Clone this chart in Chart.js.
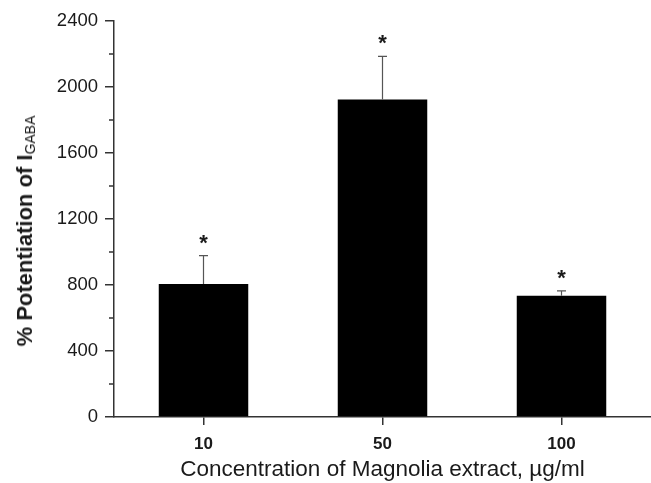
<!DOCTYPE html>
<html>
<head>
<meta charset="utf-8">
<script src="https://cdn.jsdelivr.net/npm/chart.js@4/dist/chart.umd.min.js"></script>
<style>
  html, body { margin: 0; padding: 0; background: #fff; overflow: hidden; }
  #wrap { position: relative; width: 651px; height: 483px; }
  #ytitle {
    position: absolute; left: 25px; top: 231px;
    transform: translate(-50%, -50%) rotate(-90deg);
    white-space: nowrap;
    font: bold 22px "Liberation Sans", Arial, sans-serif; color: #1a1a1a;
  }
  #ytitle sub { font-weight: normal; font-size: 14px; vertical-align: -3px; }
</style>
</head>
<body>
<div id="wrap">
  <canvas id="mychart" width="651" height="483"></canvas>
  <div id="ytitle">% Potentiation of I<sub>GABA</sub></div>
</div>
<script>
// values
var concentrations = ['10', '50', '100'];      // µg/ml
var meanPotentiation = [806, 1925, 735];        // bar heights, %
var errorTop = [978, 2186, 765];                // mean + SEM
var significance = ['*', '*', '*'];
var yMin = 0, yMax = 2400, yStep = 400, yMinorStep = 200;

var axisColor = '#333';
var textColor = '#1a1a1a';
var fontFamily = '"Liberation Sans", Arial, sans-serif';

// error bars (upper only) + asterisks + minor y ticks
var extrasPlugin = {
  id: 'extras',
  afterDatasetsDraw: function(chart) {
    var ctx = chart.ctx;
    var y = chart.scales.y;
    var meta = chart.getDatasetMeta(0);
    ctx.save();
    meta.data.forEach(function(bar, i) {
      var top = y.getPixelForValue(errorTop[i]);
      ctx.strokeStyle = '#555';
      ctx.lineWidth = 1.2;
      ctx.beginPath();
      ctx.moveTo(bar.x, bar.y);
      ctx.lineTo(bar.x, top);
      ctx.moveTo(bar.x - 4.5, top);
      ctx.lineTo(bar.x + 4.5, top);
      ctx.stroke();

      ctx.fillStyle = textColor;
      ctx.font = 'bold 22px ' + fontFamily;
      ctx.textAlign = 'center';
      ctx.textBaseline = 'alphabetic';
      ctx.fillText(significance[i], bar.x, top - 6);
    });
    ctx.restore();
  },
  afterDraw: function(chart) {
    var ctx = chart.ctx;
    var y = chart.scales.y;
    var x0 = chart.chartArea.left;
    ctx.save();
    ctx.strokeStyle = axisColor;
    ctx.lineWidth = 1.5;
    ctx.beginPath();
    for (var v = yMin + yMinorStep; v < yMax; v += yStep) {
      var py = y.getPixelForValue(v);
      ctx.moveTo(x0 - 5, py);
      ctx.lineTo(x0, py);
    }
    ctx.stroke();
    ctx.restore();
  }
};

var ctx = document.getElementById('mychart');
var chart = new Chart(ctx, {
  type: 'bar',
  data: {
    labels: concentrations,
    datasets: [{
      data: meanPotentiation,
      backgroundColor: '#000',
      borderWidth: 0,
      barPercentage: 0.5,
      categoryPercentage: 1.0
    }]
  },
  options: {
    responsive: false,
    animation: false,
    events: [],
    layout: { padding: { top: 21, right: 0, left: 0, bottom: 0 } },
    plugins: { legend: { display: false }, tooltip: { enabled: false } },
    scales: {
      x: {
        grid: { display: true, offset: false, drawOnChartArea: false, drawTicks: true, tickLength: 8, color: axisColor, lineWidth: 1.5 },
        border: { display: true, color: axisColor, width: 1.5 },
        ticks: { color: textColor, font: { family: fontFamily, size: 17, weight: 'bold' }, padding: 9 },
        title: {
          display: true,
          text: 'Concentration of Magnolia extract, µg/ml',
          color: textColor,
          font: { family: fontFamily, size: 22.5, lineHeight: 1.0 },
          padding: { top: 0, bottom: 2 }
        },
        afterFit: function(scale) { scale.height = 66; }
      },
      y: {
        min: yMin,
        max: yMax,
        grid: { display: true, drawOnChartArea: false, drawTicks: true, tickLength: 9, color: axisColor, lineWidth: 1.5 },
        border: { display: true, color: axisColor, width: 1.5 },
        ticks: {
          stepSize: yStep, color: textColor, font: { family: fontFamily, size: 18.5 }, padding: 7,
          callback: function(v) { return String(v); }
        },
        afterFit: function(scale) { scale.width = 114; }
      }
    }
  },
  plugins: [extrasPlugin]
});
</script>
</body>
</html>
